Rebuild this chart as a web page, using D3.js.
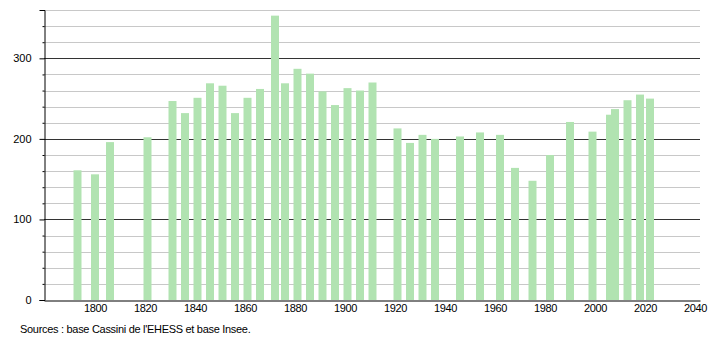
<!DOCTYPE html>
<html>
<head>
<meta charset="utf-8">
<script src="https://cdn.jsdelivr.net/npm/d3@7"></script>
<style>
    body { margin: 0; background: #fff; }
    svg { display: block; font-family: "Liberation Sans", Arial, sans-serif; }
</style>
</head>
<body>
<div id="chart"></div>
<script>
'use strict'

// recensements (années) et population
const annees = [1793, 1800, 1806, 1821, 1831, 1836, 1841, 1846, 1851, 1856,
    1861, 1866, 1872, 1876, 1881, 1886, 1891, 1896, 1901, 1906,
    1911, 1921, 1926, 1931, 1936, 1946, 1954, 1962, 1968, 1975,
    1982, 1990, 1999, 2006, 2008, 2013, 2018, 2022];
const population = [161, 156, 196, 202, 247, 232, 251, 269, 266, 232,
    251, 262, 353, 269, 287, 281, 259, 242, 263, 260,
    270, 213, 195, 205, 200, 203, 208, 205, 164, 148,
    180, 221, 209, 230, 237, 248, 255, 250];

const yTicksMajor = [0, 100, 200, 300];
const yTicksMinor = [20, 40, 60, 80, 120, 140, 160, 180, 220, 240, 260, 280, 320, 340, 360];
const xTicks = [1800, 1820, 1840, 1860, 1880, 1900, 1920, 1940, 1960, 1980, 2000, 2020, 2040];
const source = "Sources : base Cassini de l'EHESS et base Insee.";

function histo() {
    const width = 710;
    const height = 340;
    const left = 44, right = 700, top = 10, bottom = 300;

    const svg = d3.select("#chart")
        .append("svg")
        .attr("width", width)
        .attr("height", height);

    const xScale = d3.scaleLinear()
        .domain([1779.6, 2042])
        .range([left, right]);

    const yScale = d3.scaleLinear()
        .domain([0, 360])
        .range([bottom, top]);

    // lignes de grille
    svg.append('g')
        .selectAll('line')
        .data(yTicksMinor)
        .enter()
        .append('line')
        .attr('x1', left)
        .attr('x2', right)
        .attr('y1', d => Math.round(yScale(d)) + 0.5)
        .attr('y2', d => Math.round(yScale(d)) + 0.5)
        .attr('stroke', '#c8c8c8')
        .attr('stroke-width', 1);

    svg.append('g')
        .selectAll('line')
        .data(yTicksMajor.filter(d => d > 0))
        .enter()
        .append('line')
        .attr('x1', left)
        .attr('x2', right)
        .attr('y1', d => Math.round(yScale(d)) + 0.5)
        .attr('y2', d => Math.round(yScale(d)) + 0.5)
        .attr('stroke', '#333')
        .attr('stroke-width', 1);

    // barres
    svg.append('g')
        .selectAll('rect')
        .data(annees.map((a, i) => ({annee: a, pop: population[i]})))
        .enter()
        .append('rect')
        .attr('x', d => xScale(d.annee) - 4)
        .attr('y', d => yScale(d.pop))
        .attr('width', 8)
        .attr('height', d => bottom - yScale(d.pop))
        .attr('fill', '#b1e3b1');

    // axe y
    const yAxis = svg.append('g')
        .attr('transform', `translate(${left + 0.5}, 0)`)
        .call(d3.axisLeft(yScale).tickValues(yTicksMajor).tickSize(5).tickPadding(8));
    yAxis.select('.domain').attr('stroke', '#000');
    yAxis.selectAll('.tick line').attr('stroke', '#000');
    yAxis.selectAll('text')
        .attr('fill', '#000')
        .style('font-size', '11px')
        .style('font-family', '"Liberation Sans", Arial, sans-serif');

    svg.append('g')
        .attr('transform', `translate(${left + 0.5}, 0)`)
        .call(d3.axisLeft(yScale).tickValues(yTicksMinor).tickSize(2).tickFormat(''))
        .call(g => g.select('.domain').remove())
        .selectAll('.tick line').attr('stroke', '#000');

    // axe x
    const xAxis = svg.append('g')
        .attr('transform', `translate(0, ${bottom + 0.5})`)
        .call(d3.axisBottom(xScale).tickValues(xTicks).tickSize(0).tickPadding(4)
            .tickFormat(d3.format('d')));
    xAxis.select('.domain').attr('stroke', '#000');
    xAxis.selectAll('text')
        .attr('fill', '#000')
        .style('font-size', '11px')
        .style('letter-spacing', '-0.4px')
        .style('font-family', '"Liberation Sans", Arial, sans-serif');

    svg.append('text')
        .attr('x', 20)
        .attr('y', 333)
        .style('font-size', '11px')
        .style('letter-spacing', '-0.3px')
        .attr('fill', '#000')
        .text(source);
}

histo();
</script>
</body>
</html>
